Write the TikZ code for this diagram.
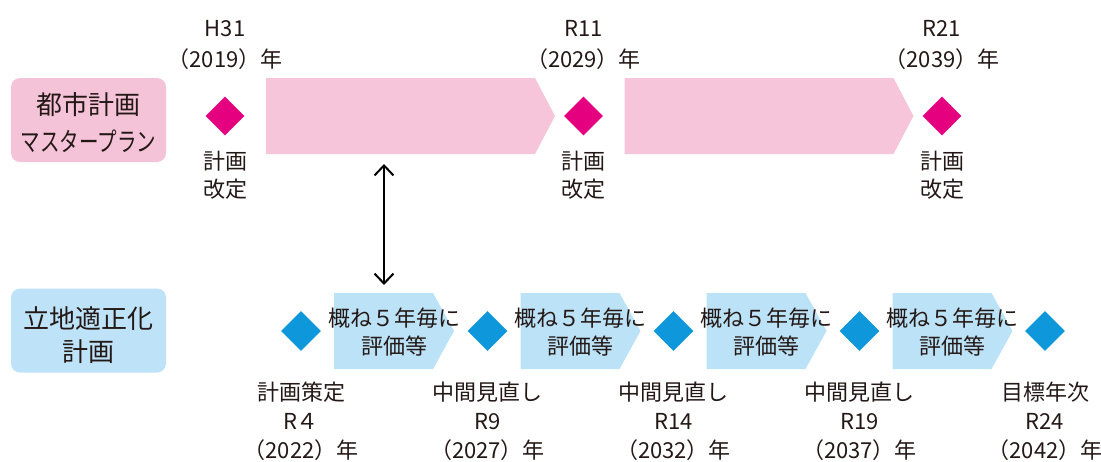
\documentclass[tikz,border=0pt]{standalone}
\usepackage{fontspec}
\setmainfont{Noto Sans CJK JP}
\usetikzlibrary{shapes.geometric,arrows.meta}
\definecolor{pinkbar}{HTML}{F6C5DA}
\definecolor{pinkbox}{HTML}{F5C3D8}
\definecolor{magdia}{HTML}{E4007F}
\definecolor{bluebar}{HTML}{BCE2F7}
\definecolor{bluebox}{HTML}{BEE3F8}
\definecolor{bluedia}{HTML}{0E97DA}
\definecolor{ink}{HTML}{231815}
\begin{document}
\begin{tikzpicture}[x=1pt,y=-1pt,
  txts/.style={font=\fontsize{22}{26}\selectfont, text=ink, inner sep=0pt, anchor=base},
  txtl/.style={font=\fontsize{26}{30}\selectfont, text=ink, inner sep=0pt, anchor=base},
  mdia/.style={diamond, fill=magdia, minimum width=39pt, minimum height=39pt, inner sep=0pt},
  bdia/.style={diamond, fill=bluedia, minimum width=40pt, minimum height=40pt, inner sep=0pt},
  labbox/.style={rounded corners=9pt, minimum width=155pt, minimum height=84pt, inner sep=0pt},
  link/.style={line width=2pt, draw=black, {Straight Barb[length=10pt,width=19pt]}-{Straight Barb[length=10pt,width=19pt]}}]
\useasboundingbox (0,0) rectangle (1101,461);

% left labels
\node[labbox, fill=pinkbox] (mpbox) at (88.5,120) {};
\node[txtl] (mp1) at (88.5,114) {都市計画};
\node[txtl] (mp2) at (88.5,151) {\scalebox{0.75}[1]{マスタープラン}};
\node[labbox, fill=bluebox] (lobox) at (88.5,330.5) {};
\node[txtl] (lo1) at (88.5,328) {立地適正化};
\node[txtl] (lo2) at (88.5,361) {計画};

% master plan bars
\foreach \x in {225,583.5}{
  \fill[pinkbar] ({\x+41},78) -- ({\x+310},78) -- ({\x+330},116) -- ({\x+310},154) -- ({\x+41},154) -- cycle;
}
% master plan milestones
\foreach \i/\x/\era/\yr in {1/225/H31/2019, 2/583.5/R11/2029, 3/942/R21/2039}{
  \node[mdia] (md\i) at (\x,116) {};
  \node[txts] (mera\i) at (\x,36.5) {\era};
  \node[txts] (myr\i) at (\x,67.5) {（\yr）年};
  \node[txts] (mk\i) at (\x,169) {計画};
  \node[txts] (mt\i) at (\x,197) {改定};
}

% link arrow
\coordinate (arrT) at (384,164);
\coordinate (arrB) at (384,285);
\draw[link] (arrT) -- (arrB);

% location plan chevrons
\foreach \i/\x in {1/301, 2/487.5, 3/673.5, 4/859.5}{
  \fill[bluebar] ({\x+33},293) -- ({\x+132},293) -- ({\x+153},331) -- ({\x+132},369) -- ({\x+33},369) -- cycle;
  \node[txts] (ca\i) at ({\x+93},326) {概ね５年毎に};
  \node[txts] (cb\i) at ({\x+93},354) {評価等};
}
% location plan milestones
\foreach \i/\x/\what/\era/\yr in {1/301/計画策定/R４/2022, 2/487.5/中間見直し/R9/2027, 3/673.5/中間見直し/R14/2032, 4/859.5/中間見直し/R19/2037, 5/1045/目標年次/R24/2042}{
  \node[bdia] (bd\i) at (\x,331) {};
  \node[txts] (bw\i) at (\x,400) {\what};
  \node[txts] (be\i) at (\x,429) {\era};
  \node[txts] (by\i) at (\x,458) {（\yr）年};
}
\end{tikzpicture}
\end{document}
